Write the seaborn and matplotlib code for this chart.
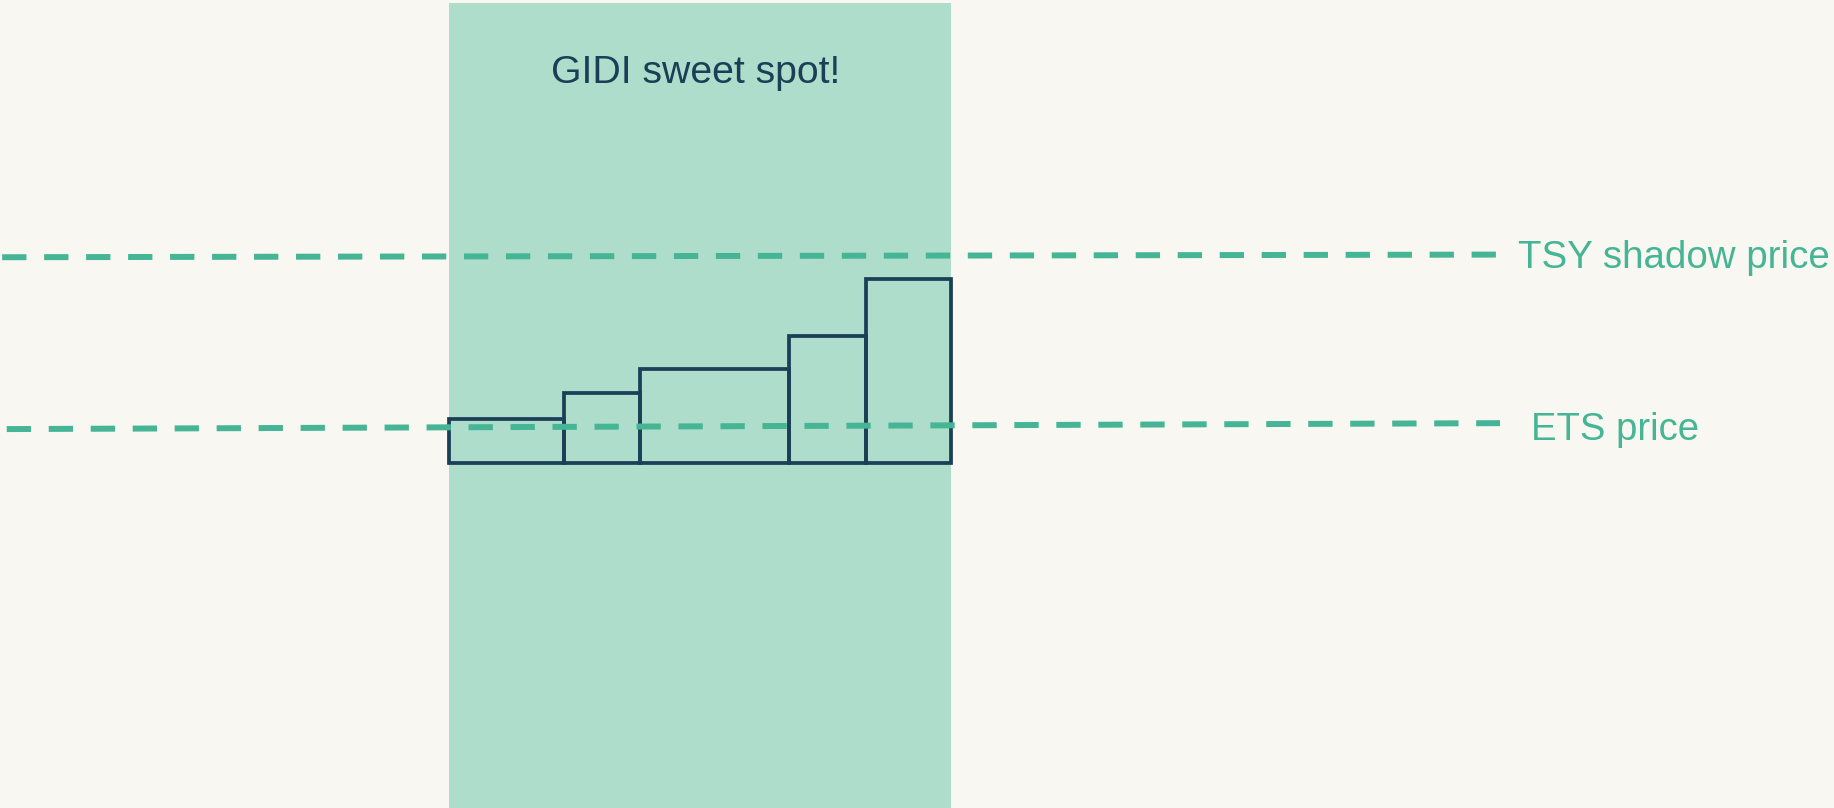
import seaborn as sns
import matplotlib.pyplot as plt
import numpy as np

# abatement options: width = volume, height = cost
volumes = [15, 10, 19.5, 10, 11.1]
costs = [10, 16, 21.5, 29, 42]

# price lines (value at left end, value at right end)
tsy_price = [46.85, 47.45]
ets_price = [7.8, 9.15]
line_labels = ['TSY shadow price', 'ETS price']
shade_label = 'GIDI sweet spot!'

bg = '#f8f7f1'
shade = '#aeddcb'
green = '#45b595'
navy = '#1b3f57'

sns.set_style('white')
plt.rcParams['font.family'] = ['Liberation Sans', 'DejaVu Sans']

fig = plt.figure(figsize=(18.34, 8.08), dpi=100, facecolor=bg)
ax = fig.add_axes([0, 0, 1, 1])
ax.set_facecolor(bg)
ax.set_xlim(-58.68, 181.06)
ax.set_ylim(-78.3, 105.3)
ax.axis('off')

lefts = np.cumsum(volumes) - np.array(volumes)
total = sum(volumes)

ax.axvspan(0, total, ymin=0, ymax=1 - 3 / 808, color=shade, lw=0, zorder=0)

ax.bar(lefts, costs, width=volumes, align='edge', fill=False,
       edgecolor=navy, linewidth=2.7, zorder=2)

dash = (0, (4.07, 2.96))
sns.lineplot(x=[-58.4, 136.9], y=tsy_price, ax=ax, color=green,
             linewidth=4.3, linestyle=dash, zorder=3)
sns.lineplot(x=[-57.8, 137.4], y=ets_price, ax=ax, color=green,
             linewidth=4.3, linestyle=dash, zorder=3)

ax.text(139.8, 44.3, line_labels[0], color=green, fontsize=27.7,
        ha='left', va='baseline')
ax.text(141.5, 5.3, line_labels[1], color=green, fontsize=27.5,
        ha='left', va='baseline')
ax.text(32.3, 86.5, shade_label, color=navy, fontsize=28.3,
        ha='center', va='baseline')

fig.savefig('out.png', dpi=100, facecolor=bg)
